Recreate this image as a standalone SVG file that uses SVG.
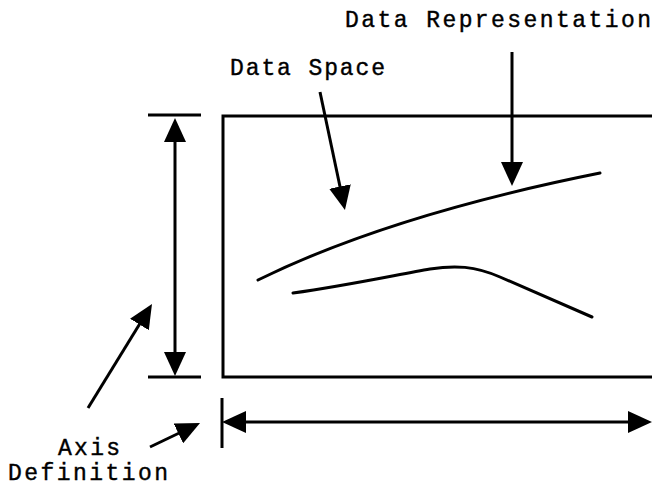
<svg xmlns="http://www.w3.org/2000/svg" width="652" height="489" viewBox="0 0 652 489">
  <style>
    .ln { fill: none; stroke: #000; stroke-width: 3; }
    .cv { fill: none; stroke: #000; stroke-width: 3; stroke-linecap: round; }
    .ar { fill: none; stroke: #000; stroke-width: 3; marker-end: url(#head); }
    .lbl { font-family: "Liberation Mono", "DejaVu Sans Mono", monospace; font-size: 23px; fill: #000; stroke: #000; stroke-width: 0.4; }
  </style>
  <defs>
    <marker id="head" viewBox="0 0 24 22" refX="16" refY="11" markerWidth="24" markerHeight="22" markerUnits="userSpaceOnUse" orient="auto-start-reverse">
      <path d="M0,0 L24,11 L0,22 Z" fill="#000"/>
    </marker>
  </defs>

  <!-- data space frame -->
  <g id="frame">
    <path class="ln" d="M652,116 H223 V377 H652"/>
  </g>

  <!-- plotted data -->
  <g id="data">
    <path class="cv" d="M258,280 Q390,215 600,173"/>
    <path class="cv" d="M293,293 C350,285 400,274 430,269 C455,265 475,266 500,277 L592,317"/>
  </g>

  <!-- axis extents -->
  <g id="axes">
    <line class="ln" x1="148" y1="115" x2="201" y2="115"/>
    <line class="ln" x1="148" y1="377" x2="201" y2="377"/>
    <line class="ln" x1="222" y1="398" x2="222" y2="448"/>
  </g>

  <!-- connectors -->
  <g id="connectors">
    <line class="ar" x1="175" y1="126" x2="175" y2="368" style="marker-start:url(#head)"/>
    <line class="ar" x1="230" y1="422" x2="644" y2="422" style="marker-start:url(#head)"/>
    <line class="ar" x1="512" y1="52" x2="512" y2="178"/>
    <line class="ar" x1="320" y1="92" x2="343.3" y2="202.2"/>
    <line class="ar" x1="88" y1="408" x2="147.8" y2="310.8"/>
    <line class="ar" x1="150" y1="447" x2="192.8" y2="426.5"/>
  </g>

  <!-- labels -->
  <g id="label-representation">
    <text class="lbl" x="345" y="27" textLength="306" lengthAdjust="spacing">Data Representation</text>
  </g>
  <g id="label-space">
    <text class="lbl" x="230" y="75" textLength="155" lengthAdjust="spacing">Data Space</text>
  </g>
  <g id="label-axis">
    <text class="lbl" x="58" y="455" textLength="62" lengthAdjust="spacing">Axis</text>
    <text class="lbl" x="8" y="480" textLength="160" lengthAdjust="spacing">Definition</text>
  </g>
</svg>
